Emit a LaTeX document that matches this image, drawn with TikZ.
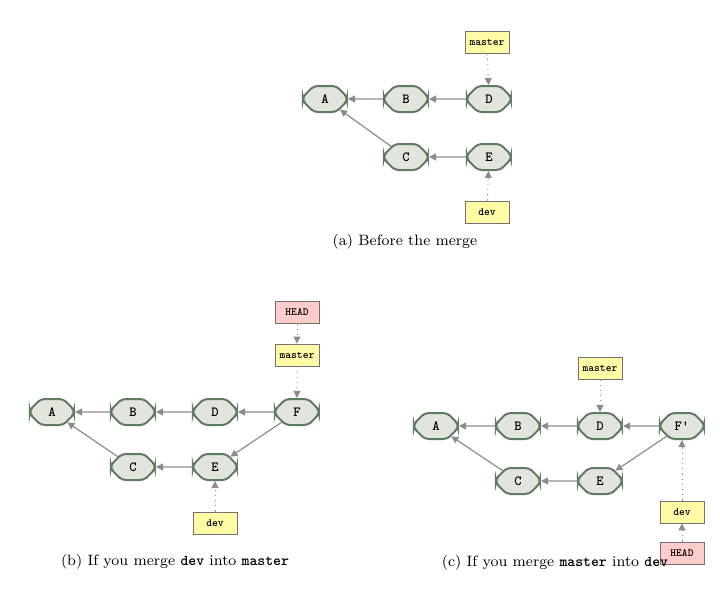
\documentclass[tikz,border=0pt]{standalone}
\usetikzlibrary{arrows.meta}
\usetikzlibrary{shapes.misc}
\begin{document}
\begin{tikzpicture}[x=0.5pt,y=-0.5pt,
  commit/.style={chamfered rectangle,chamfered rectangle xsep=2.5pt,rounded corners=2pt,draw=black!55!green!25!gray,line width=1pt,
    fill=yellow!20!green!15!gray!25,minimum width=22pt,minimum height=13pt,inner sep=1pt,font=\fontsize{7}{8}\selectfont\ttfamily\bfseries},
  branch/.style={draw=black!55,fill=yellow!35,minimum width=22pt,minimum height=11pt,inner sep=1.5pt,font=\fontsize{5.5}{6}\selectfont\ttfamily\bfseries},
  head/.style={branch,fill=red!20},
  parent/.style={-{Triangle[width=3.5pt,length=3.5pt]},draw=black!45,line width=0.6pt},
  ref/.style={parent,dotted,line width=0.4pt},
  caption/.style={font=\fontsize{7.5}{9}\selectfont}]

\useasboundingbox (0,0) rectangle (720,595);

% (a) before the merge
\node[commit] (aA) at (325,99) {A};
\node[commit] (aB) at (406,99) {B};
\node[commit] (aD) at (489,99) {D};
\node[commit] (aC) at (406,157) {C};
\node[commit] (aE) at (489,157) {E};
\node[branch] (amaster) at (487,42) {master};
\node[branch] (adev) at (487,212) {dev};
\draw[parent] (aB) -- (aA);
\draw[parent] (aD) -- (aB);
\draw[parent] (aC) -- (aA);
\draw[parent] (aE) -- (aC);
\draw[ref] (amaster) -- (aD);
\draw[ref] (adev) -- (aE);
\node[caption] at (405,242) {(a) Before the merge};

% (b) merge dev into master
\node[commit] (bA) at (52,412) {A};
\node[commit] (bB) at (133,412) {B};
\node[commit] (bD) at (215,412) {D};
\node[commit] (bF) at (297,412) {F};
\node[commit] (bC) at (133,467) {C};
\node[commit] (bE) at (215,467) {E};
\node[head] (bhead) at (297,312) {HEAD};
\node[branch] (bmaster) at (297,355) {master};
\node[branch] (bdev) at (215,523) {dev};
\draw[parent] (bB) -- (bA);
\draw[parent] (bD) -- (bB);
\draw[parent] (bF) -- (bD);
\draw[parent] (bF) -- (bE);
\draw[parent] (bC) -- (bA);
\draw[parent] (bE) -- (bC);
\draw[ref] (bhead) -- (bmaster);
\draw[ref] (bmaster) -- (bF);
\draw[ref] (bdev) -- (bE);
\node[caption] at (175,562) {(b) If you merge \texttt{\bfseries dev} into \texttt{\bfseries master}};

% (c) merge master into dev
\node[commit] (cA) at (436,426) {A};
\node[commit] (cB) at (518,426) {B};
\node[commit] (cD) at (600,426) {D};
\node[commit] (cF) at (682,426) {F'};
\node[commit] (cC) at (518,481) {C};
\node[commit] (cE) at (600,481) {E};
\node[branch] (cmaster) at (600,368) {master};
\node[branch] (cdev) at (682,512) {dev};
\node[head] (chead) at (682,553) {HEAD};
\draw[parent] (cB) -- (cA);
\draw[parent] (cD) -- (cB);
\draw[parent] (cF) -- (cD);
\draw[parent] (cF) -- (cE);
\draw[parent] (cC) -- (cA);
\draw[parent] (cE) -- (cC);
\draw[ref] (cmaster) -- (cD);
\draw[ref] (chead) -- (cdev);
\draw[ref] (cdev) -- (cF);
\node[caption] at (555,563) {(c) If you merge \texttt{\bfseries master} into \texttt{\bfseries dev}};

\end{tikzpicture}
\end{document}
